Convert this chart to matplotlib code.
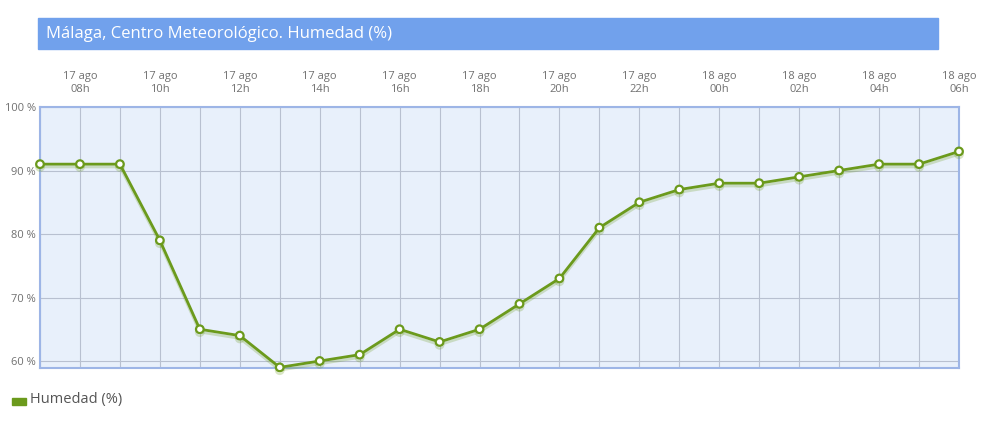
import numpy as np
import matplotlib.pyplot as plt
from matplotlib.patches import Rectangle
import matplotlib.patheffects as pe

plt.rcParams['font.family'] = ['Open Sans', 'DejaVu Sans']

# datos: humedad horaria, 17 ago 07h -> 18 ago 06h
horas = ['07h', '08h', '09h', '10h', '11h', '12h', '13h', '14h', '15h', '16h', '17h', '18h',
         '19h', '20h', '21h', '22h', '23h', '00h', '01h', '02h', '03h', '04h', '05h', '06h']
dias = ['17 ago'] * 17 + ['18 ago'] * 7
humedad = [91, 91, 91, 79, 65, 64, 59, 60, 61, 65, 63, 65,
           69, 73, 81, 85, 87, 88, 88, 89, 90, 91, 91, 93]
yticks = [60, 70, 80, 90, 100]

W, H = 985, 424
fig = plt.figure(figsize=(W / 100, H / 100), dpi=100)

# barra de titulo
fig.patches.append(Rectangle((38 / W, 1 - 49 / H), 900 / W, 31 / H,
                             transform=fig.transFigure, color='#71a1ec', zorder=0))
fig.text(46 / W, 1 - 34 / H, 'Málaga, Centro Meteorológico. Humedad (%)',
         color='white', fontsize=12, va='center', ha='left')

ax = fig.add_axes([40 / W, 1 - 368 / H, 919 / W, 261 / H])
ax.set_facecolor('#e8f0fb')
x = np.arange(len(humedad))

ax.plot(x, humedad, color='#6b9a1c', lw=2, marker='o', ms=5.5,
        mfc='white', mec='#6b9a1c', mew=1.6, zorder=5, clip_on=False,
        path_effects=[pe.SimpleLineShadow(offset=(0, -2), shadow_color='#6b9a1c', alpha=0.25),
                      pe.Normal()])

ax.set_xlim(0, len(humedad) - 1)
ax.set_ylim(58.9, 100)
ax.set_xticks(x, minor=False)
ax.set_xticklabels([])
ax.set_yticks(yticks)
ax.set_yticklabels([f'{v} %' for v in yticks], fontsize=8, color='#707070')
ax.tick_params(axis='both', length=0, pad=3)
ax.grid(True, color='#b8c0d0', lw=0.8)

for i in range(1, len(humedad), 2):
    ax.text(i, 1.045, f'{dias[i]}\n{horas[i]}', transform=ax.get_xaxis_transform(),
            ha='center', va='bottom', fontsize=8, color='#707070', linespacing=1.3)

for s in ax.spines.values():
    s.set_color('#9db5e6')
    s.set_linewidth(1.5)

# leyenda
fig.patches.append(Rectangle((12 / W, 1 - 405 / H), 14 / W, 7 / H,
                             transform=fig.transFigure, color='#6b9a1c'))
fig.text(30 / W, 1 - 399 / H, 'Humedad (%)', fontsize=10.5, color='#555555', va='center')

plt.savefig('out.png', dpi=100)
